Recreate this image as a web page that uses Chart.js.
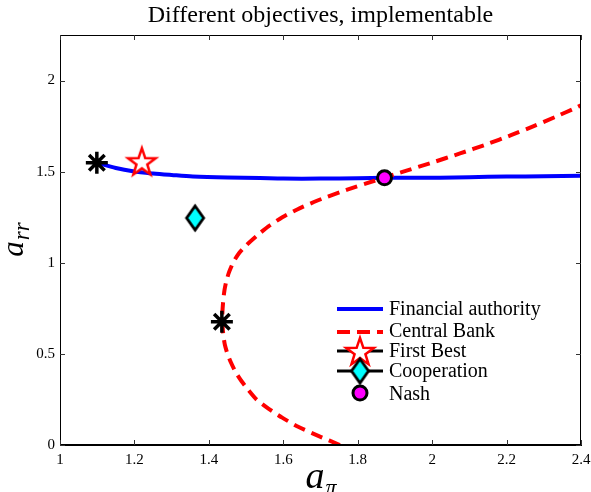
<!DOCTYPE html>
<html><head><meta charset="utf-8">
<script src="https://cdn.jsdelivr.net/npm/chart.js@4/dist/chart.umd.min.js"></script>
<style>html,body{margin:0;padding:0;background:#fff}#wrap{width:591px;height:492px;position:relative}</style>
</head><body><div id="wrap"><canvas id="c" width="591" height="492"></canvas></div>
<script>
// ---- data ----
const titleText = "Different objectives, implementable";
const xTicks = [1, 1.2, 1.4, 1.6, 1.8, 2, 2.2, 2.4];
const yTicks = [0, 0.5, 1, 1.5, 2];
const seriesLabels = ["Financial authority", "Central Bank", "First Best", "Cooperation", "Nash"];

const faX = [1.099, 1.15, 1.196, 1.25, 1.3, 1.357, 1.45, 1.537, 1.6, 1.7, 1.8, 1.872, 1.95, 2.02, 2.1, 2.2, 2.3, 2.4];
const faY = [1.549, 1.52, 1.502, 1.49, 1.482, 1.474, 1.468, 1.465, 1.462, 1.462, 1.464, 1.466, 1.467, 1.467, 1.470, 1.473, 1.475, 1.478];

const cbX = [1.752, 1.694, 1.640, 1.597, 1.560, 1.528, 1.507, 1.488, 1.472, 1.460, 1.450, 1.443, 1.439, 1.437, 1.436, 1.437, 1.439, 1.442, 1.447, 1.4545, 1.465, 1.480, 1.5025, 1.530, 1.560, 1.5975, 1.645, 1.7025, 1.770, 1.845, 1.9225, 2.000, 2.075, 2.146, 2.212, 2.273, 2.3305, 2.3855, 2.400];
const cbY = [0.00, 0.05, 0.10, 0.15, 0.20, 0.25, 0.30, 0.35, 0.40, 0.45, 0.50, 0.55, 0.60, 0.65, 0.70, 0.75, 0.80, 0.85, 0.90, 0.95, 1.00, 1.05, 1.10, 1.15, 1.20, 1.25, 1.30, 1.35, 1.40, 1.45, 1.50, 1.55, 1.60, 1.65, 1.70, 1.75, 1.80, 1.85, 1.864];

const firstBestX = [1.220], firstBestY = [1.557];
const coopX = [1.363], coopY = [1.246];
const nashX = [1.872], nashY = [1.466];
const asteriskX = [1.099, 1.435], asteriskY = [1.549, 0.676];

const pts = (xs, ys) => xs.map((x, i) => ({ x: x, y: ys[i] }));

// ---- marker images ----
function starImg(R, r, lw) {
  const s = Math.ceil(2 * (R + lw)) + 2;
  const c = document.createElement('canvas'); c.width = s; c.height = s;
  const g = c.getContext('2d');
  g.translate(s / 2, s / 2 + R * 0.1);
  g.beginPath();
  for (let i = 0; i < 10; i++) {
    const rad = i % 2 === 0 ? R : r;
    const a = -Math.PI / 2 + i * Math.PI / 5;
    const px = rad * Math.cos(a), py = rad * Math.sin(a);
    i === 0 ? g.moveTo(px, py) : g.lineTo(px, py);
  }
  g.closePath();
  g.fillStyle = '#fff'; g.fill();
  g.lineWidth = lw; g.strokeStyle = '#ff0000'; g.lineJoin = 'miter'; g.stroke();
  return c;
}
function diamondImg(hw, hh, lw) {
  const w = Math.ceil(2 * (hw + lw)) + 2, h = Math.ceil(2 * (hh + lw)) + 2;
  const c = document.createElement('canvas'); c.width = w; c.height = h;
  const g = c.getContext('2d');
  g.translate(w / 2, h / 2);
  g.beginPath(); g.moveTo(0, -hh); g.lineTo(hw, 0); g.lineTo(0, hh); g.lineTo(-hw, 0); g.closePath();
  g.fillStyle = '#00ffff'; g.fill();
  g.lineWidth = lw; g.strokeStyle = '#000'; g.stroke();
  return c;
}
const STAR = starImg(14.5, 5.7, 2.5);
const DIAMOND = diamondImg(8.5, 12, 2.8);

// ---- plugins ----
const SERIF = '"Liberation Serif", "Times New Roman", serif';
const framePlugin = {
  id: 'frame',
  afterDraw(chart) {
    const { ctx, chartArea: a, scales } = chart;
    ctx.save();
    ctx.strokeStyle = '#000'; ctx.lineWidth = 1;
    ctx.strokeRect(Math.round(a.left) + 0.5, Math.round(a.top) + 0.5, Math.round(a.right - a.left) - 1, Math.round(a.bottom - a.top) - 1);
    ctx.strokeStyle = '#333';
    const L = 5;
    ctx.beginPath();
    xTicks.forEach(v => {
      const px = Math.round(scales.x.getPixelForValue(v)) + 0.5;
      ctx.moveTo(px, a.bottom); ctx.lineTo(px, a.bottom - L);
      ctx.moveTo(px, a.top); ctx.lineTo(px, a.top + L);
    });
    yTicks.forEach(v => {
      const py = Math.round(scales.y.getPixelForValue(v)) + 0.5;
      ctx.moveTo(a.left, py); ctx.lineTo(a.left + L, py);
      ctx.moveTo(a.right, py); ctx.lineTo(a.right - L, py);
    });
    ctx.stroke();

    // title
    ctx.fillStyle = '#000';
    ctx.font = '24px ' + SERIF;
    ctx.textAlign = 'center'; ctx.textBaseline = 'alphabetic';
    ctx.fillText(titleText, (a.left + a.right) / 2, 22);

    // x axis title: a_pi
    ctx.textAlign = 'left';
    ctx.font = 'italic 38px ' + SERIF;
    const wa = ctx.measureText('a').width;
    ctx.font = 'italic 22px ' + SERIF;
    const wp = ctx.measureText('\u03c0').width;
    let x0 = (a.left + a.right) / 2 - (wa + wp) / 2;
    ctx.font = 'italic 38px ' + SERIF;
    ctx.fillText('a', x0, 488);
    ctx.font = 'italic 22px ' + SERIF;
    ctx.fillText('\u03c0', x0 + wa + 1, 494);

    // y axis title: a_rr (rotated)
    ctx.save();
    ctx.translate(23, (a.top + a.bottom) / 2);
    ctx.rotate(-Math.PI / 2);
    ctx.font = 'italic 31px ' + SERIF;
    const wa2 = ctx.measureText('a').width;
    ctx.font = 'italic 23px ' + SERIF;
    const wr = ctx.measureText('rr').width;
    const y0 = -(wa2 + wr) / 2;
    ctx.font = 'italic 31px ' + SERIF;
    ctx.fillText('a', y0, 0);
    ctx.font = 'italic 23px ' + SERIF;
    ctx.fillText('rr', y0 + wa2 + 1, 6);
    ctx.restore();

    // legend
    const lx0 = 337, lx1 = 383, mx = 360, tx = 389;
    ctx.font = '20px ' + SERIF;
    ctx.textAlign = 'left'; ctx.textBaseline = 'alphabetic';
    ctx.lineCap = 'butt';
    ctx.strokeStyle = '#0000ff'; ctx.lineWidth = 4; ctx.setLineDash([]);
    ctx.beginPath(); ctx.moveTo(lx0, 309); ctx.lineTo(lx1, 309); ctx.stroke();
    ctx.fillText(seriesLabels[0], tx, 315);
    ctx.strokeStyle = '#ff0000'; ctx.setLineDash([13, 7]);
    ctx.beginPath(); ctx.moveTo(lx0, 332); ctx.lineTo(lx1, 332); ctx.stroke();
    ctx.setLineDash([]);
    ctx.fillText(seriesLabels[1], tx, 337);
    ctx.strokeStyle = '#000'; ctx.lineWidth = 3;
    ctx.beginPath(); ctx.moveTo(lx0, 351); ctx.lineTo(lx1, 351); ctx.stroke();
    ctx.drawImage(STAR, mx - STAR.width / 2, 351 - STAR.height / 2);
    ctx.fillText(seriesLabels[2], tx, 357);
    ctx.beginPath(); ctx.moveTo(lx0, 371); ctx.lineTo(lx1, 371); ctx.stroke();
    ctx.drawImage(DIAMOND, mx - DIAMOND.width / 2, 371 - DIAMOND.height / 2);
    ctx.fillText(seriesLabels[3], tx, 377);
    ctx.beginPath(); ctx.arc(mx, 393, 7, 0, Math.PI * 2);
    ctx.fillStyle = '#ff00ff'; ctx.fill();
    ctx.strokeStyle = '#000'; ctx.lineWidth = 3; ctx.stroke();
    ctx.fillStyle = '#000';
    ctx.fillText(seriesLabels[4], tx, 400);
    ctx.restore();
  }
};

const tickFont = { family: SERIF, size: 15 };

new Chart(document.getElementById('c'), {
  type: 'scatter',
  data: {
    datasets: [
      { label: seriesLabels[4], data: pts(nashX, nashY), pointStyle: 'circle', pointRadius: 7, pointBackgroundColor: '#ff00ff', pointBorderColor: '#000', pointBorderWidth: 3, order: 0 },
      { label: seriesLabels[3], data: pts(coopX, coopY), pointStyle: DIAMOND, order: 0 },
      { label: seriesLabels[2], data: pts(firstBestX, firstBestY), pointStyle: STAR, order: 0 },
      { label: 'asterisk', data: pts(asteriskX, asteriskY), pointStyle: 'star', pointRadius: 11, pointBorderColor: '#000', pointBackgroundColor: '#000', pointBorderWidth: 3.5, order: 0 },
      { label: seriesLabels[0], data: pts(faX, faY), showLine: true, borderColor: '#0000ff', borderWidth: 4, pointRadius: 0, tension: 0.3, order: 2 },
      { label: seriesLabels[1], data: pts(cbX, cbY), showLine: true, borderColor: '#ff0000', borderWidth: 4, borderDash: [12, 7], borderCapStyle: 'butt', pointRadius: 0, tension: 0.2, order: 1 }
    ]
  },
  options: {
    responsive: false, animation: false, devicePixelRatio: 1,
    layout: { autoPadding: false, padding: { top: 35, right: 10, left: 0, bottom: 0 } },
    plugins: { legend: { display: false }, tooltip: { enabled: false }, title: { display: false } },
    scales: {
      x: {
        type: 'linear', min: 1, max: 2.4,
        afterBuildTicks: s => { s.ticks = xTicks.map(v => ({ value: v })); },
        afterFit: s => { s.height = 47; s.paddingLeft = 0; s.paddingRight = 0; },
        ticks: { font: tickFont, color: '#000', padding: 6, maxRotation: 0, autoSkip: false, callback: v => String(Number(v.toFixed(1))) },
        grid: { display: false, drawTicks: false },
        border: { display: true, color: '#000' }
      },
      y: {
        type: 'linear', min: 0, max: 2.25,
        afterBuildTicks: s => { s.ticks = yTicks.map(v => ({ value: v })); },
        afterFit: s => { s.width = 60; s.paddingTop = 0; s.paddingBottom = 0; },
        ticks: { font: tickFont, color: '#000', padding: 5, autoSkip: false, callback: v => String(Number(v.toFixed(1))) },
        grid: { display: false, drawTicks: false },
        border: { display: true, color: '#000' }
      }
    }
  },
  plugins: [framePlugin]
});
</script>
</body></html>
